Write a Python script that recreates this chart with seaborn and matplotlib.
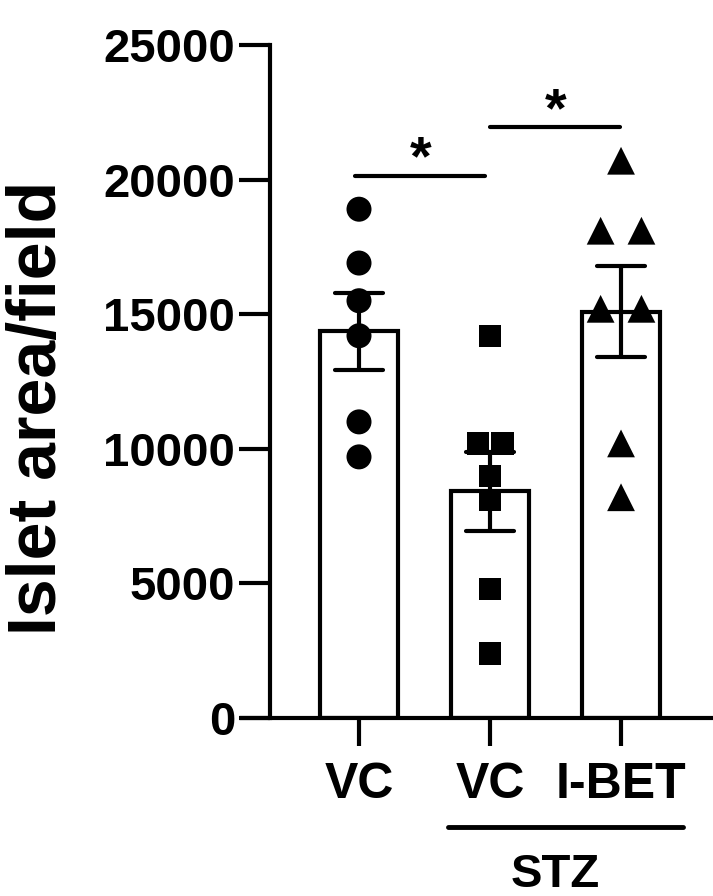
import numpy as np
import pandas as pd
import matplotlib
matplotlib.use("Agg")
import matplotlib.pyplot as plt
import matplotlib.transforms as mtransforms
import seaborn as sns

# values
groups = ["VC", "STZ VC", "STZ I-BET"]
tick_labels = ["VC", "VC", "I-BET"]
vc = [18900, 16900, 15500, 14200, 11000, 9700]
stz_vc = [14200, 10200, 10200, 9000, 8100, 4800, 2400]
stz_ibet = [20700, 18100, 18100, 15200, 15200, 10200, 8200]

df = pd.DataFrame({
    "group": ["VC"] * len(vc) + ["STZ VC"] * len(stz_vc) + ["STZ I-BET"] * len(stz_ibet),
    "area": vc + stz_vc + stz_ibet,
})

sns.set_style("ticks", {"axes.edgecolor": "black", "text.color": "black",
                        "xtick.color": "black", "ytick.color": "black",
                        "axes.labelcolor": "black"})
plt.rcParams["font.family"] = ["Liberation Sans", "DejaVu Sans"]
plt.rcParams["font.weight"] = "bold"

fig = plt.figure(figsize=(7.13, 8.96), dpi=100)
ax = fig.add_axes([242 / 713, (896 - 718) / 896, (713 - 242) / 713, (718 - 45) / 896])

sns.barplot(data=df, x="group", y="area", order=groups, color="white",
            edgecolor="black", linewidth=3, width=0.6, errorbar=("se", 1),
            capsize=0.36, err_kws={"color": "black", "linewidth": 3}, ax=ax)

# points, one marker per group
markers = {"VC": ("o", 18, 0), "STZ VC": ("s", 16, 1), "STZ I-BET": ("^", 20, 8)}
for g in groups:
    m, s, lw = markers[g]
    sns.swarmplot(data=df[df.group == g], x="group", y="area", order=groups,
                  marker=m, size=s, color="black", edgecolor="none",
                  linewidth=lw, ax=ax, zorder=1.5)

ax.set_xlim(-0.893, 2.702)
ax.set_ylim(0, 25000)

# centre rows of tied points on their category (GraphPad style)
fig.canvas.draw()
for coll in ax.collections:
    off = coll.get_offsets()
    if len(off) == 0:
        continue
    off = np.asarray(off, dtype=float).copy()
    centre = np.round(off[:, 0].mean())
    for yv in np.unique(off[:, 1]):
        idx = off[:, 1] == yv
        if idx.sum() > 1:
            off[idx, 0] += centre - off[idx, 0].mean()
    coll.set_offsets(off)
    if "draw" in coll.__dict__:
        del coll.draw

ax.set_yticks([0, 5000, 10000, 15000, 20000, 25000])
ax.set_xticks([0, 1, 2])
ax.set_xticklabels(tick_labels)
ax.tick_params(axis="y", labelsize=34, width=3, length=22, pad=3, colors="black")
ax.tick_params(axis="x", labelsize=36, width=3, length=20, pad=12, colors="black")
for lab in ax.get_xticklabels() + ax.get_yticklabels():
    lab.set_fontweight("bold")

sns.despine(ax=ax)
ax.spines["left"].set_position(("data", -0.679))
ax.spines["left"].set_linewidth(3)
ax.spines["bottom"].set_linewidth(3)

ax.set_xlabel("")
ax.set_ylabel("Islet area/field", fontsize=49, fontweight="bold", va="center")
ax.yaxis.set_label_coords(-0.433, 0.46)

# significance brackets
ax.plot([-0.03, 0.96], [20150, 20150], color="black", lw=3, clip_on=False)
ax.text(0.47, 19750, "*", ha="center", va="bottom", fontsize=40, fontweight="bold")
ax.plot([1.0, 1.99], [21950, 21950], color="black", lw=3, clip_on=False)
ax.text(1.5, 21550, "*", ha="center", va="bottom", fontsize=40, fontweight="bold")

# STZ grouping line below the axis
trans = mtransforms.blended_transform_factory(ax.transData, ax.transAxes)
ax.plot([0.68, 2.47], [-0.162, -0.162], color="black", lw=3.5,
        transform=trans, clip_on=False)
ax.text(1.5, -0.2, "STZ", transform=trans, ha="center", va="top",
        fontsize=34, fontweight="bold")

fig.savefig("out.png", dpi=100)
